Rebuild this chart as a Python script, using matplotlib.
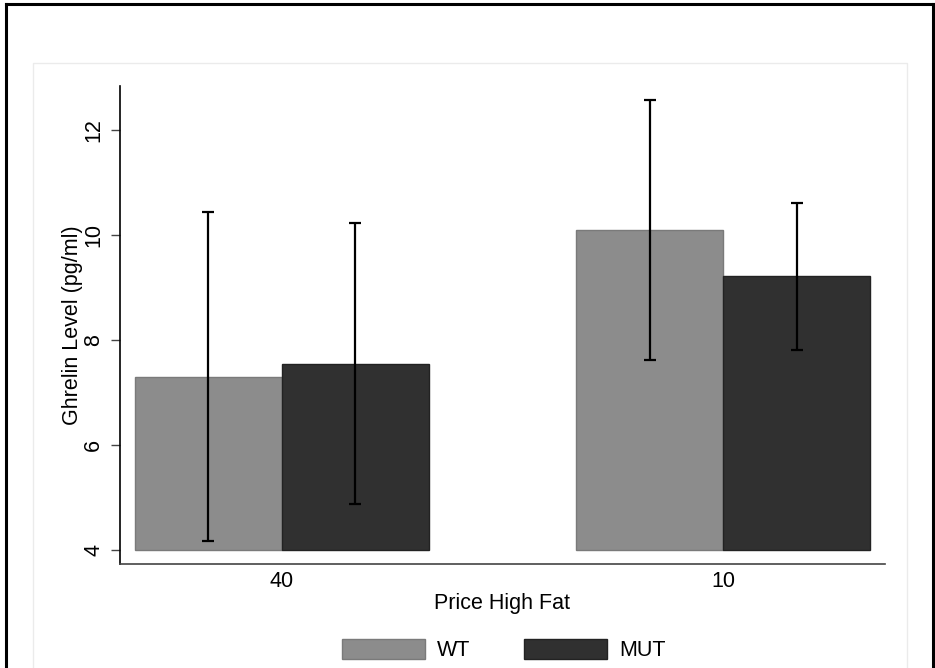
import numpy as np
import matplotlib.pyplot as plt
from matplotlib.patches import Rectangle, Patch
from matplotlib.lines import Line2D

plt.rcParams['font.family'] = ['Liberation Sans', 'DejaVu Sans']

# data
groups = ['40', '10']
wt_mean = [7.30, 10.10]
wt_err = [3.13, 2.48]
mut_mean = [7.55, 9.21]
mut_err = [2.68, 1.40]
base = 4

wt_color = '#8c8c8c'
mut_color = '#303030'
fs = 15.5

fig = plt.figure(figsize=(9.35, 6.68), dpi=100)
W, H = 935, 668

# outer frame (bottom edge runs off the page)
for xs, ys in [([6, 933], [4, 4]), ([6, 6], [4, 680]), ([933, 933], [4, 680])]:
    fig.add_artist(Line2D([x / W for x in xs], [1 - y / H for y in ys],
                          color='black', lw=2.2, transform=fig.transFigure))
# light inner region
fig.add_artist(Rectangle((33 / W, 1 - 680 / H), (907 - 33) / W, (680 - 63) / H,
                         transform=fig.transFigure, facecolor='none',
                         edgecolor='#ebebeb', lw=1))

ax = fig.add_axes([120 / W, 1 - 564 / H, (885 - 120) / W, (564 - 86) / H])
ax.set_facecolor('none')

x = np.arange(len(groups))
w = 1 / 3
ax.bar(x - w / 2, np.array(wt_mean) - base, w, bottom=base, color=wt_color,
       edgecolor='#7a7a7a', lw=1, zorder=2)
ax.bar(x + w / 2, np.array(mut_mean) - base, w, bottom=base, color=mut_color,
       edgecolor='#222222', lw=1, zorder=2)
ax.errorbar(x - w / 2, wt_mean, yerr=wt_err, fmt='none', ecolor='black',
            elinewidth=1.6, capsize=4.5, capthick=1.6, zorder=3)
ax.errorbar(x + w / 2, mut_mean, yerr=mut_err, fmt='none', ecolor='black',
            elinewidth=1.6, capsize=4.5, capthick=1.6, zorder=3)

ax.set_xlim(-0.367, 1.367)
ax.set_ylim(3.733, 12.838)
ax.set_yticks([4, 6, 8, 10, 12])
ax.set_yticklabels(['4', '6', '8', '10', '12'], rotation=90, va='center')
ax.set_xticks(x)
ax.set_xticklabels(groups)
ax.tick_params(axis='y', length=6.5, width=1, color='#444444', labelsize=fs, pad=5)
ax.tick_params(axis='x', length=0, labelsize=fs, pad=5)

for s in ['top', 'right']:
    ax.spines[s].set_visible(False)
ax.spines['left'].set_color('black')
ax.spines['left'].set_linewidth(1.2)
ax.spines['bottom'].set_color('#444444')
ax.spines['bottom'].set_linewidth(1.2)

ax.set_ylabel('Ghrelin Level (pg/ml)', fontsize=fs, labelpad=0)
ax.set_xlabel('Price High Fat', fontsize=fs, labelpad=1)

handles = [Patch(facecolor=wt_color, edgecolor='#7a7a7a', label='WT'),
           Patch(facecolor=mut_color, edgecolor='#222222', label='MUT')]
fig.legend(handles=handles, loc='center', bbox_to_anchor=(0.539, 0.027), ncol=2,
           frameon=False, fontsize=fs, handlelength=3.85, handleheight=1.05,
           handletextpad=0.55, columnspacing=2.5)

fig.savefig('out.png', dpi=100)
